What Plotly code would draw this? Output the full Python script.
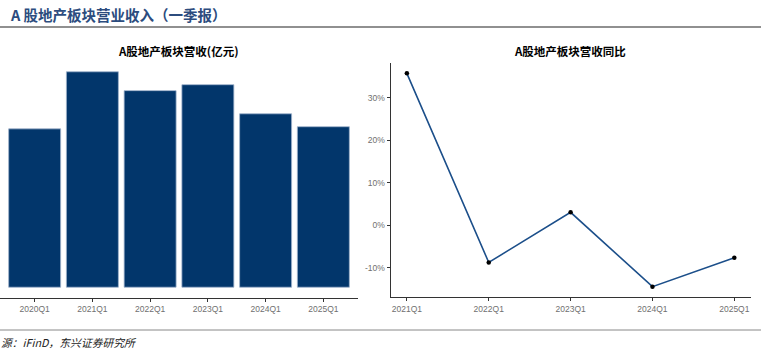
import plotly.graph_objects as go

# Data
bar_quarters = ["2020Q1", "2021Q1", "2022Q1", "2023Q1", "2024Q1", "2025Q1"]
revenue = [2940, 4000, 3650, 3760, 3220, 2980]  # 亿元 (estimated)
yoy_quarters = ["2021Q1", "2022Q1", "2023Q1", "2024Q1", "2025Q1"]
yoy = [35.8, -8.7, 3.1, -14.4, -7.6]  # %
yoy_ticks = [-10, 0, 10, 20, 30]
yoy_ticklabels = [f"{v}%" for v in yoy_ticks]

W, H = 761, 358
def px_x(x): return x / W
def px_y(y): return 1 - y / H

fig = go.Figure()
fig.add_trace(go.Bar(
    x=bar_quarters, y=revenue, xaxis="x", yaxis="y",
    marker=dict(color="#02366B", line=dict(color="#9fb3cc", width=0.8)),
    width=0.9, showlegend=False,
))
fig.add_trace(go.Scatter(
    x=yoy_quarters, y=yoy, xaxis="x2", yaxis="y2", mode="lines+markers",
    line=dict(color="#1c4f8a", width=1.6),
    marker=dict(color="black", size=4.5),
    showlegend=False,
))

tickfont = dict(family="Liberation Sans, Arial, sans-serif", size=8.5, color="#707070")
rmax = max(revenue)
fig.update_layout(
    width=W, height=H,
    margin=dict(l=0, r=0, t=0, b=0),
    paper_bgcolor="white", plot_bgcolor="white",
    xaxis=dict(domain=[px_x(0), px_x(358)], type="category", range=[-0.6, 5.6],
               showline=True, linecolor="#333333", linewidth=1,
               ticks="outside", ticklen=3, tickcolor="#333333",
               tickfont=tickfont, showgrid=False, zeroline=False),
    yaxis=dict(domain=[px_y(298), px_y(61)], range=[-0.05 * rmax, 1.05 * rmax],
               visible=False, showgrid=False, zeroline=False),
    xaxis2=dict(domain=[px_x(390.5), px_x(750.7)], anchor="y2", type="category",
                range=[-0.2, 4.2], showline=True, linecolor="#333333", linewidth=1,
                ticks="outside", ticklen=3, tickcolor="#333333",
                tickfont=tickfont, showgrid=False, zeroline=False),
    yaxis2=dict(domain=[px_y(297.3), px_y(62.7)], anchor="x2", range=[-16.9, 38.3],
                tickvals=yoy_ticks, ticktext=yoy_ticklabels,
                showline=True, linecolor="#333333", linewidth=1,
                ticks="outside", ticklen=3, tickcolor="#333333",
                tickfont=tickfont, showgrid=False, zeroline=False),
    shapes=[
        dict(type="line", xref="paper", yref="paper", x0=0, x1=1,
             y0=px_y(27), y1=px_y(27), line=dict(color="#222222", width=1.2)),
        dict(type="line", xref="paper", yref="paper", x0=0, x1=1,
             y0=px_y(330), y1=px_y(330), line=dict(color="#888888", width=1)),
    ],
    annotations=[
        dict(text="<b>A 股地产板块营业收入（一季报）</b>", xref="paper", yref="paper",
             x=px_x(8), y=px_y(14), xanchor="left", yanchor="middle", showarrow=False,
             font=dict(family="Noto Sans CJK SC", size=14.5, color="#2c4c7e")),
        dict(text="<b>A股地产板块营收(亿元)</b>", xref="paper", yref="paper",
             x=px_x(178), y=px_y(51), xanchor="center", yanchor="middle", showarrow=False,
             font=dict(family="Noto Sans CJK SC", size=11.5, color="black")),
        dict(text="<b>A股地产板块营收同比</b>", xref="paper", yref="paper",
             x=px_x(570), y=px_y(51), xanchor="center", yanchor="middle", showarrow=False,
             font=dict(family="Noto Sans CJK SC", size=11.5, color="black")),
        dict(text="<i>源：iFinD，东兴证券研究所</i>", xref="paper", yref="paper",
             x=px_x(-1), y=px_y(342), xanchor="left", yanchor="middle", showarrow=False,
             font=dict(family="Noto Sans CJK SC", size=10.8, color="#222222")),
    ],
)

fig.write_html("out.html", config={"displayModeBar": False},
               post_script="document.body.style.margin='0';document.body.style.overflow='hidden';")
